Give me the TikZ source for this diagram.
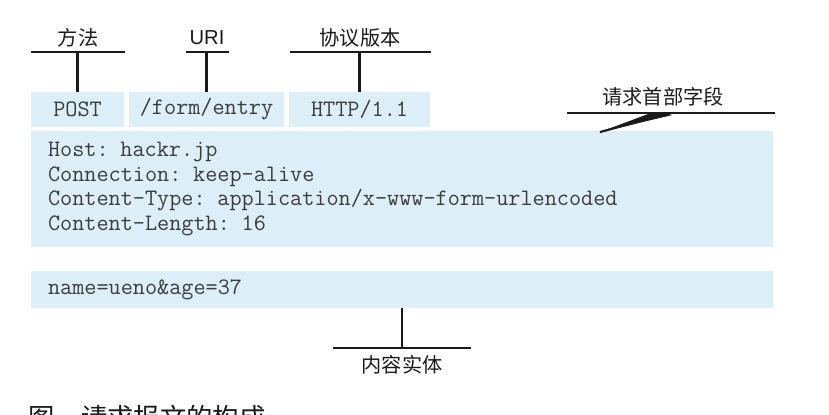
\documentclass[tikz,border=0pt]{standalone}
\usepackage{fontspec}
\setmainfont{Liberation Sans}
\newfontfamily\cjk{Noto Sans CJK SC}
\usetikzlibrary{positioning}
\definecolor{Cell}{HTML}{DCEEF8}
\definecolor{Ink}{HTML}{1A1A1A}
\definecolor{Code}{HTML}{3C3C3C}

\begin{document}
\begin{tikzpicture}[x=0.02cm,y=-0.02cm]
  \tikzset{
    cell/.style={fill=Cell,inner sep=0pt,text=Code,
      font=\ttfamily\fontsize{13.4}{13.8}\selectfont},
    tag/.style={inner sep=0pt,text=Ink,font=\cjk\fontsize{11.5}{13}\selectfont},
    bar/.style={Ink,line width=1.6pt},
  }
  \useasboundingbox (0,0) rectangle (829,414);
  \clip (0,0) rectangle (829,414);
  % start line
  \node[cell,minimum width=1.86cm,minimum height=0.7cm] (post) at (77.5,109.5) {POST};
  \node[cell,minimum width=3.1cm,minimum height=0.7cm] (uri) at (206.5,109.5) {/form/entry};
  \node[cell,minimum width=2.82cm,minimum height=0.7cm] (ver) at (359.5,109.5) {HTTP/1.1};
  % header fields and body
  \node[cell,minimum width=14.84cm,minimum height=2.32cm,text width=14.16cm,
    inner xsep=0.34cm,align=left,font=\ttfamily\fontsize{13.4}{14.2}\selectfont]
    (hdr) at (402,189) {Host: hackr.jp\\Connection: keep-alive\\
      Content-Type: application/x-www-form-urlencoded\\Content-Length: 16};
  \node[cell,minimum width=14.84cm,minimum height=0.74cm,text width=14.16cm,
    inner xsep=0.34cm,align=left] (body) at (402,289.5) {name=ueno\&age=37};
  % labels
  \node[tag] (method) at (78,38) {方法};
  \node[tag,font=\fontsize{11.5}{13}\selectfont] (target) at (207,38) {URI};
  \node[tag] (version) at (360,38) {协议版本};
  \node[tag] (fields) at (663,97) {请求首部字段};
  \node[tag] (entity) at (402,365) {内容实体};
  \node[tag,anchor=west,font=\cjk\fontsize{15}{17}\selectfont] (caption) at (28,417)
    {图\hspace{1em}请求报文的构成};
  % bars
  \coordinate (mL) at (31,52);  \coordinate (mR) at (125,52);
  \coordinate (uL) at (186,52); \coordinate (uR) at (229,52);
  \coordinate (vL) at (290,52); \coordinate (vR) at (431,52);
  \coordinate (fL) at (567,113); \coordinate (fR) at (775,113);
  \coordinate (eL) at (333,348); \coordinate (eR) at (471,348);
  \foreach \a/\b in {mL/mR,uL/uR,vL/vR,fL/fR,eL/eR}
    \draw[bar] (\a) -- (\b);
  \draw[bar] (post.north) -- (post.north |- mL);
  \draw[bar] (uri.north) -- (uri.north |- uL);
  \draw[bar] (ver.north) -- (ver.north |- vL);
  \draw[bar] (body.south) -- (body.south |- eL);
  \coordinate (fTip) at (600,132);
  \coordinate (fKnee) at (672,113);
  \fill[Ink] (fTip) -- ([yshift=-1.2pt]fKnee) -- ([xshift=-12pt]fKnee) -- cycle;
  \draw[Ink,line width=1.2pt] (fTip) -- (fKnee);
\end{tikzpicture}
\end{document}
